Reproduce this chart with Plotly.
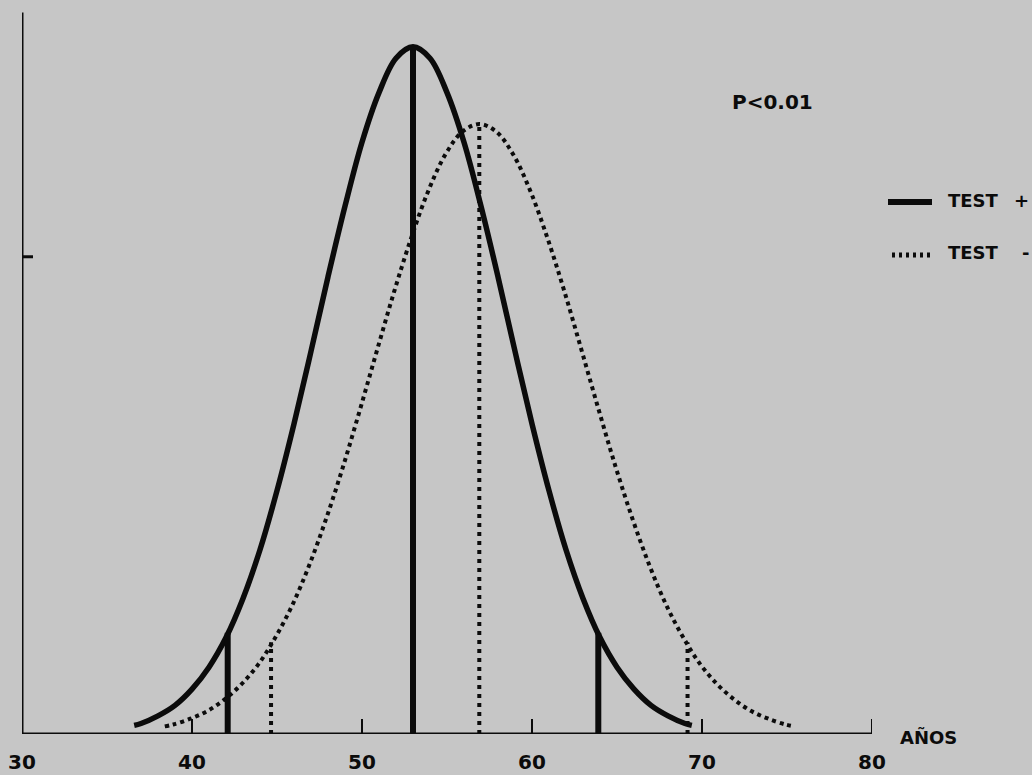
import plotly.graph_objects as go

# Age distributions (density, % per year) for the two test groups
age_pos = [36.6, 37, 38, 39, 40, 41, 42, 43, 44, 45, 46, 47, 48, 49, 50, 51, 52, 53,
           54, 55, 56, 57, 58, 59, 60, 61, 62, 63, 64, 65, 66, 67, 68, 69, 69.4]
dens_pos = [0.09, 0.11, 0.19, 0.30, 0.47, 0.70, 1.01, 1.42, 1.93, 2.55, 3.25, 4.01, 4.79, 5.53, 6.20, 6.72, 7.08, 7.20,
            7.08, 6.72, 6.20, 5.53, 4.79, 4.01, 3.25, 2.55, 1.93, 1.42, 1.01, 0.70, 0.47, 0.30, 0.19, 0.11, 0.09]

age_neg = [38.4, 38.9, 39.9, 40.9, 41.9, 42.9, 43.9, 44.9, 45.9, 46.9, 47.9, 48.9, 49.9, 50.9, 51.9, 52.9, 53.9, 54.9, 55.9,
           56.9, 57.9, 58.9, 59.9, 60.9, 61.9, 62.9, 63.9, 64.9, 65.9, 66.9, 67.9, 68.9, 69.9, 70.9, 71.9, 72.9, 73.9,
           74.9, 75.4]
dens_neg = [0.08, 0.10, 0.16, 0.24, 0.36, 0.52, 0.73, 1.01, 1.35, 1.77, 2.26, 2.81, 3.41, 4.03, 4.64, 5.20, 5.69, 6.07, 6.31,
            6.39, 6.31, 6.07, 5.69, 5.20, 4.64, 4.03, 3.41, 2.81, 2.26, 1.77, 1.35, 1.01, 0.73, 0.52, 0.36, 0.24, 0.16,
            0.10, 0.08]

# Mean and lower/upper limits for each group, with the curve height there
marks_pos_x = [42.1, 53.0, 63.9]
marks_pos_h = [1.06, 7.20, 1.06]
marks_neg_x = [44.65, 56.9, 69.15]
marks_neg_h = [0.96, 6.39, 0.96]

x_ticks = [30, 40, 50, 60, 70, 80]
y_ticks = [5]

INK = "#0b0b0b"
BG = "#c6c6c6"
W, H = 1032, 775
Y_TOP = 7.56


def stems(xs, hs):
    px, py = [], []
    for x, h in zip(xs, hs):
        px += [x, x, None]
        py += [0, h, None]
    return px, py


fig = go.Figure()

fig.add_trace(go.Scatter(x=age_pos, y=dens_pos, mode="lines",
                         line=dict(color=INK, width=5.5, shape="spline"),
                         showlegend=False, hoverinfo="skip"))
fig.add_trace(go.Scatter(x=age_neg, y=dens_neg, mode="lines",
                         line=dict(color=INK, width=4, shape="spline", dash="4px,4px"),
                         showlegend=False, hoverinfo="skip"))

sx, sy = stems(marks_pos_x, marks_pos_h)
fig.add_trace(go.Scatter(x=sx, y=sy, mode="lines",
                         line=dict(color=INK, width=6),
                         showlegend=False, hoverinfo="skip"))
sx, sy = stems(marks_neg_x, marks_neg_h)
fig.add_trace(go.Scatter(x=sx, y=sy, mode="lines",
                         line=dict(color=INK, width=4, dash="4px,5px"),
                         showlegend=False, hoverinfo="skip"))

# axis lines
fig.add_shape(type="line", xref="x", yref="y", x0=30, x1=30, y0=0, y1=Y_TOP,
              line=dict(color=INK, width=3))
fig.add_shape(type="line", xref="x", yref="y", x0=30, x1=80, y0=0, y1=0,
              line=dict(color=INK, width=3))

# inward tick marks (x ticks point up, y tick points right)
for v in x_ticks[1:]:
    fig.add_shape(type="line", xref="x", yref="paper", x0=v, x1=v,
                  y0=1 - 734 / H, y1=1 - 719 / H, line=dict(color=INK, width=2))
for v in y_ticks:
    fig.add_shape(type="line", xref="paper", yref="y", x0=22 / W, x1=33 / W,
                  y0=v, y1=v, line=dict(color=INK, width=3))

# legend samples
fig.add_shape(type="line", xref="paper", yref="paper",
              x0=888 / W, x1=932 / W, y0=1 - 202 / H, y1=1 - 202 / H,
              line=dict(color=INK, width=6))
fig.add_shape(type="line", xref="paper", yref="paper",
              x0=892 / W, x1=932 / W, y0=1 - 255 / H, y1=1 - 255 / H,
              line=dict(color=INK, width=5, dash="3px,4px"))

FONT = "DejaVu Sans"
ann = dict(xref="paper", yref="paper", showarrow=False,
           font=dict(family=FONT, size=18, color=INK, weight="bold"))
fig.add_annotation(x=946 / W, y=1 - 200 / H, text="TEST", xanchor="left", yanchor="middle", **ann)
fig.add_annotation(x=1031 / W, y=1 - 200 / H, text="+", xanchor="right", yanchor="middle", **ann)
fig.add_annotation(x=946 / W, y=1 - 252 / H, text="TEST", xanchor="left", yanchor="middle", **ann)
fig.add_annotation(x=1031 / W, y=1 - 252 / H, text="-", xanchor="right", yanchor="middle", **ann)
fig.add_annotation(x=730 / W, y=1 - 102 / H, text="P<0.01", xanchor="left", yanchor="middle",
                   xref="paper", yref="paper", showarrow=False,
                   font=dict(family=FONT, size=20, color=INK, weight="bold"))
fig.add_annotation(x=898 / W, y=1 - 737 / H, text="AÑOS", xanchor="left", yanchor="middle", **ann)

fig.update_layout(
    width=W, height=H,
    margin=dict(l=0, r=0, t=0, b=0),
    paper_bgcolor=BG, plot_bgcolor=BG,
    xaxis=dict(range=[30, 80], domain=[22 / W, 872 / W], automargin=False,
               showgrid=False, zeroline=False, showline=False,
               tickmode="array", tickvals=x_ticks, ticktext=[str(v) for v in x_ticks],
               ticks="", ticklabelstandoff=14,
               tickfont=dict(family=FONT, size=20, color=INK, weight="bold")),
    yaxis=dict(range=[0, 7.69], domain=[41 / H, 1], automargin=False,
               showgrid=False, zeroline=False, showline=False,
               tickmode="array", tickvals=y_ticks, showticklabels=False, ticks=""),
)

fig.write_html("out.html")
